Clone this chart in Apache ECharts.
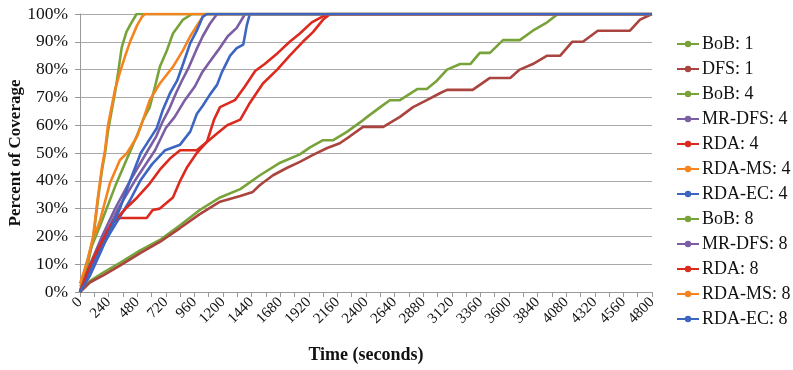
<!DOCTYPE html>
<html>
<head>
<meta charset="utf-8">
<script src="https://cdn.jsdelivr.net/npm/echarts@6/dist/echarts.min.js"></script>
<style>
  html, body { margin: 0; padding: 0; background: #fff; }
  #chart { width: 793px; height: 370px; }
</style>
</head>
<body>
<div id="chart"></div>
<script>
// [seconds, percent] pairs
const bob1 = [[0,0],[85,4],[195,7],[335,10.5],[505,15],[670,18.7],[840,24],[1005,29.5],[1175,34],[1345,37],[1510,42],[1680,46.5],[1845,49.5],[1930,52],[2040,54.6],[2125,54.6],[2240,57.6],[2350,61],[2410,63],[2520,66.5],[2600,69],[2685,69],[2830,73],[2910,73],[2995,76],[3080,80],[3190,82],[3275,82],[3355,86],[3440,86],[3550,90.6],[3690,90.6],[3800,94],[3920,97],[4010,100],[4800,100]];
const dfs1 = [[0,0],[85,3.5],[195,6],[335,9.5],[505,14],[670,18],[840,23],[1005,28],[1175,32.5],[1345,34.5],[1450,36],[1510,38.5],[1620,42],[1735,44.6],[1845,46.8],[1955,49.3],[2075,51.8],[2180,53.5],[2265,56],[2375,59.4],[2545,59.4],[2685,63],[2795,66.5],[2910,69],[3020,71.5],[3080,72.7],[3295,72.7],[3440,77],[3610,77],[3690,80],[3800,82],[3920,85],[4030,85],[4130,90],[4220,90],[4345,94],[4615,94],[4700,98],[4800,100]];
const bob4 = [[0,0],[40,8],[85,15],[170,24],[295,38],[395,48],[435,52],[485,57],[530,62],[585,66.5],[630,74],[670,81],[730,87],[780,93],[865,98],[940,100],[4800,100]];
const mrdfs4 = [[0,0],[100,10],[210,20],[320,30],[460,40],[630,51],[720,59],[795,63],[880,69],[965,74],[1025,79],[1075,82],[1160,87],[1240,92],[1315,95],[1385,100],[4800,100]];
const rda4 = [[0,0],[50,5],[110,11],[170,17],[225,22],[275,25],[335,26.6],[560,26.6],[610,29.5],[670,30],[780,34],[840,40],[900,45],[980,50],[1065,54],[1150,57],[1235,60],[1345,62],[1425,68],[1535,75],[1655,80],[1760,85],[1870,90],[1955,93.5],[2040,98],[2100,100],[4800,100]];
const rdams4 = [[0,2],[20,3],[60,10],[110,19],[170,26],[250,39],[335,47.5],[395,50],[480,56],[530,62],[585,69],[670,75],[780,81],[865,87],[925,92],[980,95.7],[1030,99],[1065,100],[4800,100]];
const rdaec4 = [[0,0],[85,8],[170,15],[250,21],[335,27],[420,33],[505,40],[605,46],[715,51],[840,53],[925,57.7],[980,64],[1030,67],[1090,71],[1150,74.5],[1190,79],[1260,85],[1315,87.7],[1370,89],[1400,96],[1425,100],[4800,100]];
const bob8 = [[0,0],[65,10],[110,19],[150,33],[185,44],[210,50],[235,58],[295,72],[320,79],[350,88],[390,93.6],[420,96],[475,100],[4800,100]];
const mrdfs8 = [[0,0],[85,10],[185,20],[295,30],[420,40],[570,51],[640,56],[690,61],[745,65.5],[805,71.5],[855,76],[915,81],[975,87],[1030,92],[1090,96.5],[1150,100],[4800,100]];
const rda8 = [[0,0],[50,6],[110,12],[195,19],[275,25],[395,30.5],[480,34],[585,39],[670,44],[755,48],[840,51],[980,51],[1065,54],[1125,62],[1175,66.5],[1300,69],[1385,74],[1470,79.5],[1550,82],[1660,86],[1760,90],[1845,93],[1945,97],[2030,99],[2080,100],[4800,100]];
const rdams8 = [[0,3],[65,11.5],[110,20],[150,34],[185,45],[210,51],[235,60],[295,73],[335,79],[380,85],[420,90],[480,96],[520,99],[545,100],[4800,100]];
const rdaec8 = [[0,0],[85,6],[170,14],[250,22],[335,30],[420,40],[510,50],[585,55],[645,59],[695,65.5],[755,71.5],[815,76],[865,82],[925,89.5],[980,94],[1030,99],[1065,100],[4800,100]];

const names = ["BoB: 1", "DFS: 1", "BoB: 4", "MR-DFS: 4", "RDA: 4", "RDA-MS: 4", "RDA-EC: 4", "BoB: 8", "MR-DFS: 8", "RDA: 8", "RDA-MS: 8", "RDA-EC: 8"];
const lines = [bob1, dfs1, bob4, mrdfs4, rda4, rdams4, rdaec4, bob8, mrdfs8, rda8, rdams8, rdaec8];
const colors = ["#78a33a", "#a9443f", "#78a33a", "#7b5ea3", "#dc2a1f", "#f5841f", "#3c66c2", "#78a33a", "#7b5ea3", "#dc2a1f", "#f5841f", "#3c66c2"];

const font = "'Liberation Serif', 'Times New Roman', serif";

const chart = echarts.init(document.getElementById("chart"));

let series = [];
for (let i = 0; i < lines.length; i++) {
    series.push({
        name: names[i],
        type: "line",
        data: lines[i],
        symbol: "circle",
        symbolSize: 4,
        showSymbol: false,
        lineStyle: { width: 2.6, color: colors[i] },
        itemStyle: { color: colors[i] },
        emphasis: { disabled: true },
    });
}

chart.setOption({
    animation: false,
    grid: { left: 80, right: 141, top: 14, bottom: 78, outerBoundsMode: "none", containLabel: false },
    legend: {
        orient: "vertical",
        left: 676,
        top: 35,
        padding: 0,
        itemWidth: 22,
        itemHeight: 8,
        itemGap: 7,
        textStyle: { fontFamily: font, fontSize: 18, color: "#111", lineHeight: 18, padding: [0, 0, 0, -2] },
        data: names,
    },
    xAxis: {
        type: "value",
        min: 0,
        max: 4800,
        interval: 240,
        name: "Time (seconds)",
        nameLocation: "middle",
        nameGap: 54,
        nameMoveOverlap: false,
        nameTextStyle: { fontFamily: font, fontSize: 18, fontWeight: "bold", color: "#111" },
        axisLine: { lineStyle: { color: "#999", width: 1 } },
        axisTick: { show: true, length: 5, lineStyle: { color: "#999" } },
        minorTick: { show: true, splitNumber: 2, length: 5, lineStyle: { color: "#999" } },
        splitLine: { show: false },
        axisLabel: {
            rotate: 45, margin: 8, fontFamily: font, fontSize: 15, color: "#111",
            formatter: function (v) { return String(v); }
        },
    },
    yAxis: {
        type: "value",
        min: 0,
        max: 100,
        interval: 10,
        name: "Percent of Coverage",
        nameLocation: "middle",
        nameGap: 56,
        nameMoveOverlap: false,
        nameTextStyle: { fontFamily: font, fontSize: 17, fontWeight: "bold", color: "#111" },
        axisLine: { show: true, lineStyle: { color: "#999", width: 1 } },
        axisTick: { show: true, length: 5, lineStyle: { color: "#999" } },
        splitLine: { lineStyle: { color: "#aaa", width: 1 } },
        axisLabel: { formatter: "{value}%", margin: 12, fontFamily: font, fontSize: 17.5, color: "#111" },
    },
    series: series,
});
</script>
</body>
</html>
